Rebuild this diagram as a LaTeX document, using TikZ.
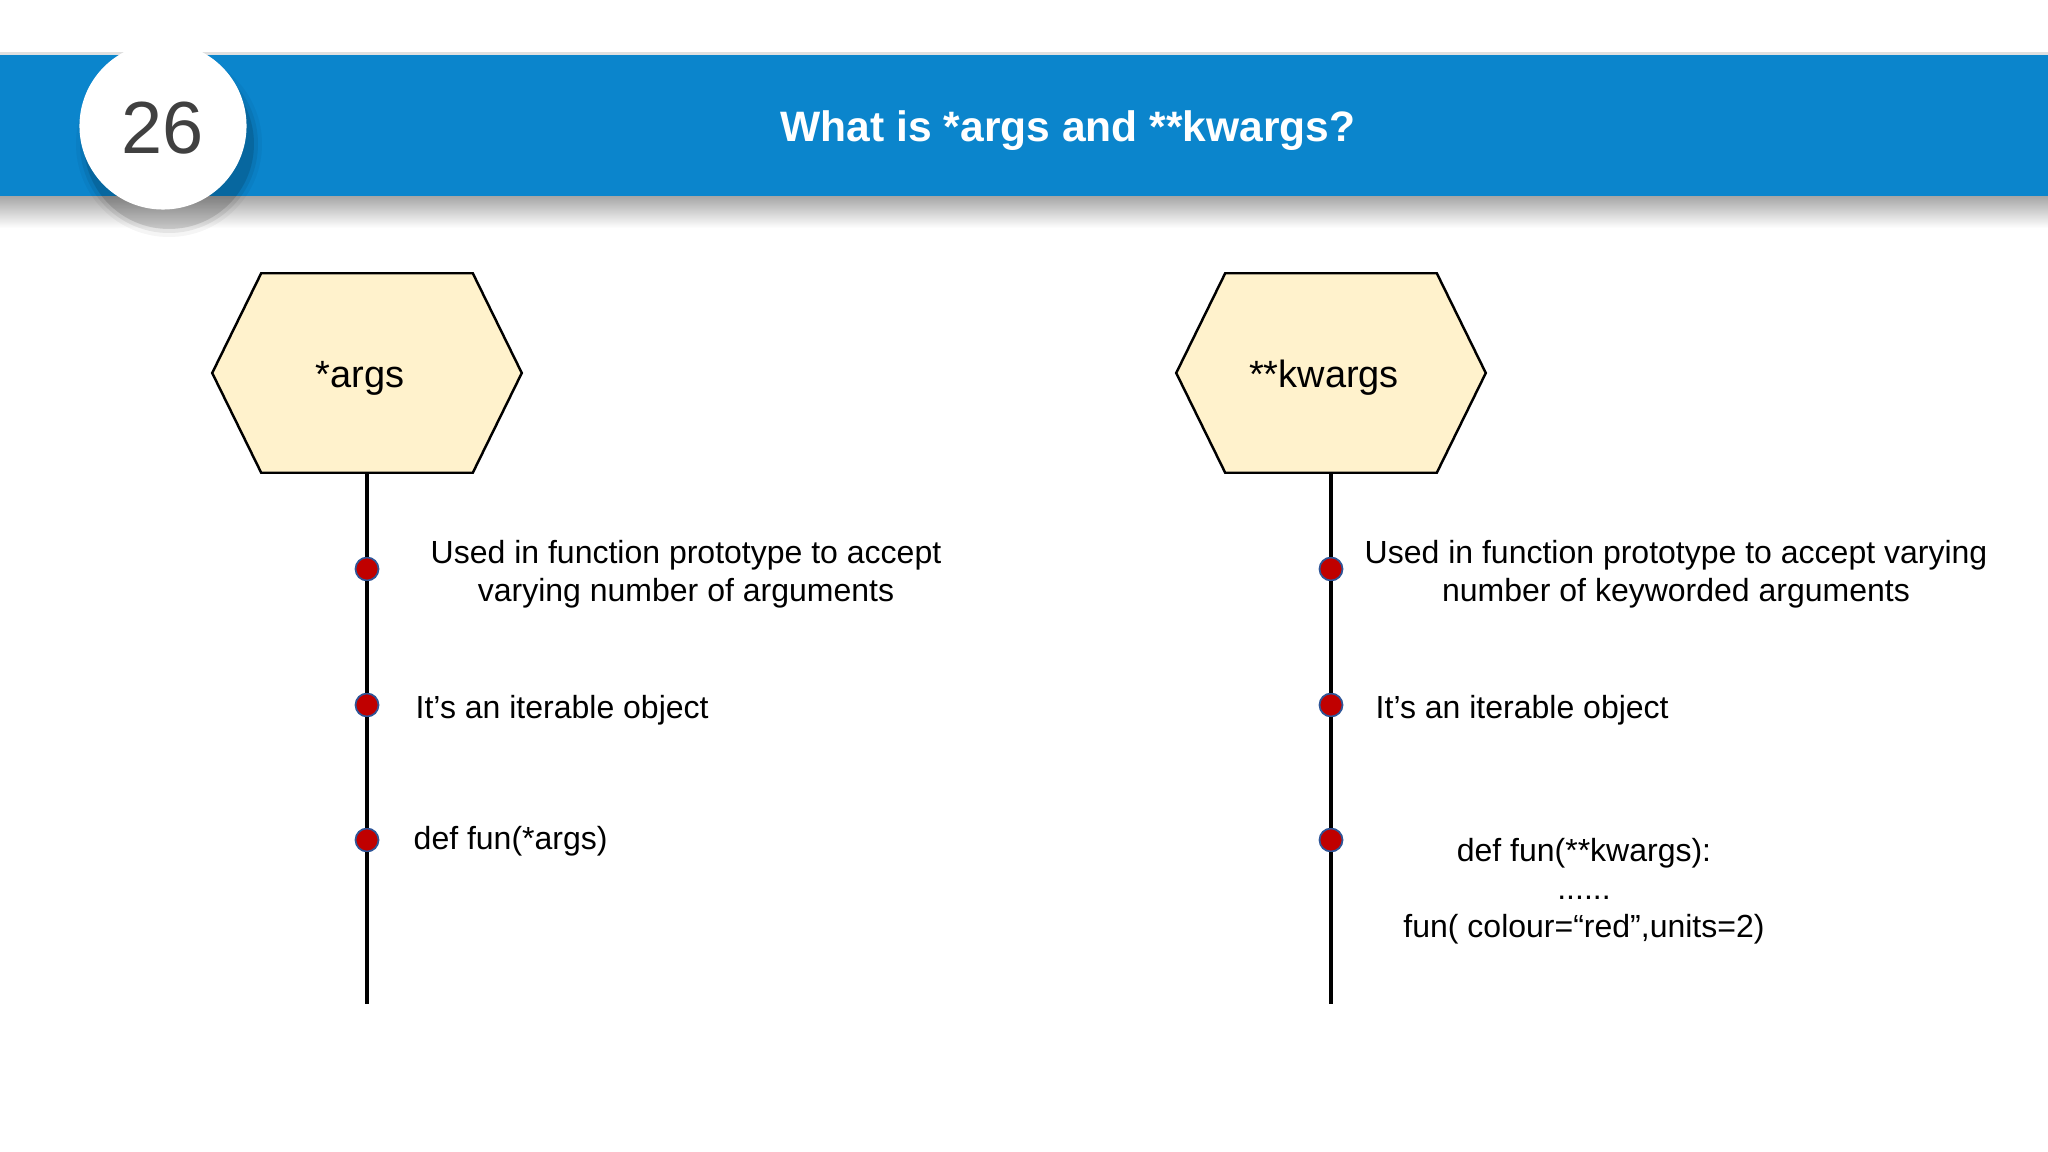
\documentclass[tikz,border=0pt]{standalone}
\usepackage{fontspec}
\setmainfont{Liberation Sans}
\usetikzlibrary{calc,backgrounds}
\definecolor{bandblue}{RGB}{11,133,204}
\definecolor{hexfill}{RGB}{255,242,204}
\definecolor{dotred}{RGB}{192,0,0}
\definecolor{dotrim}{RGB}{47,85,151}
\definecolor{numgrey}{RGB}{64,64,64}

\begin{document}
\begin{tikzpicture}[x=0.01cm,y=-0.01cm]
\tikzstyle{every node}+=[inner sep=0pt]
\tikzstyle{hexbox}=[minimum width=3.08cm,minimum height=1.98cm]
\tikzstyle{hexlabel}=[font=\fontsize{10.8}{13}\selectfont,anchor=base]
\tikzstyle{dot}=[circle,draw=dotrim,line width=0.5pt,fill=dotred,minimum size=0.23cm]
\tikzstyle{item}=[font=\fontsize{9.1}{10.8}\selectfont,anchor=base west]
\tikzstyle{block}=[font=\fontsize{9.1}{10.8}\selectfont,align=center,anchor=base]
\tikzstyle{stem}=[black,line width=1pt]
\useasboundingbox (0,0) rectangle (2048,1152);
% title band
\fill[black!12] (0,52) rectangle (2048,56);
\shade[top color=black!35,bottom color=white] (0,196) rectangle (2048,228);
\fill[bandblue] (0,55) rectangle (2048,196);
\node[font=\fontsize{12.1}{14}\selectfont\bfseries,text=white,anchor=base] (title) at (1068,142) {What is *args and **kwargs?};
% number badge
\foreach \r/\o in {93/0.04,89/0.07,85/0.12}
  \fill[black,opacity=\o] (169,144) circle (\r);
\node[circle,fill=white,minimum size=1.67cm] (badge) at (163,126) {};
\node[font=\fontsize{21}{25}\selectfont,text=numgrey,anchor=base] (num) at (163,154) {26};
% hexagons
\node[hexbox] (hexA) at (367,373) {};
\node[hexbox] (hexB) at (1331,373) {};
\begin{pgfonlayer}{background}
\foreach \h in {hexA,hexB}
  \draw[black,line width=0.7pt,fill=hexfill] (\h.west) -- ($(\h.north west)+(49,0)$) -- ($(\h.north east)+(-49,0)$)
    -- (\h.east) -- ($(\h.south east)+(-49,0)$) -- ($(\h.south west)+(49,0)$) -- cycle;
\end{pgfonlayer}
\node[hexlabel] (argsname) at ($(hexA)+(-7,15)$) {*args};
\node[hexlabel] (kwargsname) at ($(hexB)+(-7,15)$) {**kwargs};
% stems and dots
\coordinate (endA) at (367,1004);
\coordinate (endB) at (1331,1004);
\foreach \y [count=\i] in {569,705,840} {
  \node[dot] (a\i) at (367,\y) {};
  \node[dot] (b\i) at (1331,\y) {};
}
\draw[stem] (hexA) -- (a1) -- (a2) -- (a3) -- (endA);
\draw[stem] (hexB) -- (b1) -- (b2) -- (b3) -- (endB);
% texts
\node[block] (a1txt) at (686,601) {Used in function prototype to accept\\varying number of arguments};
\node[item] (a2txt) at (415,718) {It’s an iterable object};
\node[item] (a3txt) at (413,849) {def fun(*args)};
\node[block] (b1txt) at (1676,601) {Used in function prototype to accept varying\\number of keyworded arguments};
\node[item] (b2txt) at (1375,718) {It’s an iterable object};
\node[block] (b3txt) at (1584,937) {def fun(**kwargs):\\......\\fun( colour=“red”,units=2)};
\end{tikzpicture}
\end{document}
